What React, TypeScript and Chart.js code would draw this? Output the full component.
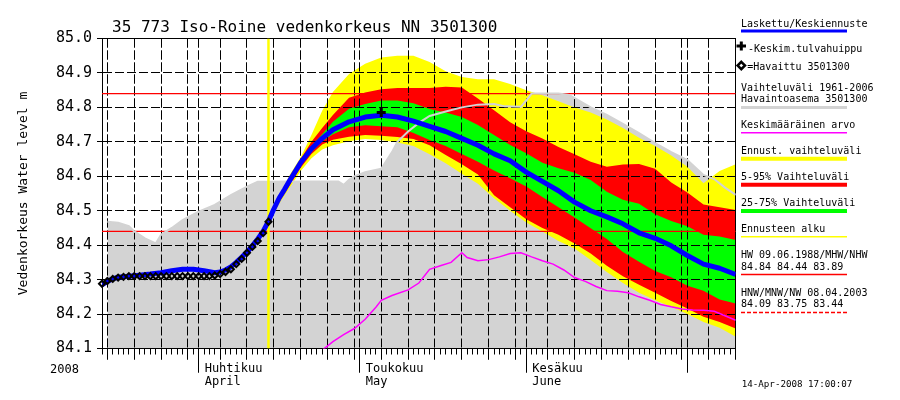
import React, { useEffect, useRef } from 'react';
import { Chart, registerables } from 'chart.js';

Chart.register(...registerables);

const MONO = 'DejaVu Sans Mono';

// ---- text ----
const titleText = '35 773 Iso-Roine vedenkorkeus NN 3501300';
const yAxisTitle = 'Vedenkorkeus Water level m';
const yearLabel = '2008';
const timestampText = '14-Apr-2008 17:00:07';

// ---- x axis: day index, 0 = 14 Mar 2008, 118 = 10 Jul 2008 ----
const dayRange = [0, 118];
const monthTickDays = [18, 48, 79, 109];
const monthTickLabels: (string | string[])[] = [['Huhtikuu', 'April'], ['Toukokuu', 'May'], ['Kesäkuu', 'June'], ''];
const fiveDayTickDays = [1, 6, 11, 16, 22, 27, 32, 37, 42, 47, 52, 57, 62, 67, 72, 77, 83, 88, 93, 98, 103, 108, 113, 118];
const yTicks = [84.1, 84.2, 84.3, 84.4, 84.5, 84.6, 84.7, 84.8, 84.9, 85.0];

// ---- observed (Havaittu 3501300) ----
const obsDays = [0, 1, 2, 3, 4, 5, 6, 7, 8, 9, 10, 11, 12, 13, 14, 15, 16, 17, 18, 19, 20, 21, 22, 23, 24, 25, 26, 27, 28, 29, 30, 31];
const obsValues = [84.288, 84.296, 84.302, 84.306, 84.308, 84.31, 84.31, 84.31, 84.31, 84.31, 84.31, 84.31, 84.31, 84.31, 84.31, 84.31,
  84.31, 84.31, 84.31, 84.31, 84.31, 84.312, 84.316, 84.322, 84.33, 84.345, 84.36, 84.378, 84.395, 84.412, 84.435, 84.468];

// ---- computed (Laskettu) before forecast ----
const calcDays = [0, 1, 2, 3, 5, 7, 9, 11, 13, 15, 17, 19, 21, 22, 23, 24, 25, 26, 27, 28, 29, 30];
const calcValues = [84.285, 84.295, 84.302, 84.307, 84.31, 84.313, 84.316, 84.32, 84.326, 84.33, 84.33, 84.326, 84.32, 84.322,
  84.328, 84.337, 84.35, 84.365, 84.38, 84.398, 84.418, 84.44];

// ---- forecast period ----
const forecastStartDay = 31;
const bandDays = [31, 32, 33, 34, 35, 37, 39, 41, 43, 46, 49, 52, 55, 58, 61, 64, 67, 70, 73, 76, 79, 82, 85, 88, 91, 94, 97, 100, 103, 106, 109, 112, 115, 118];
const forecastMean = [84.47, 84.505, 84.537, 84.562, 84.589, 84.64, 84.68, 84.71, 84.735, 84.758, 84.772, 84.777, 84.772, 84.76, 84.745, 84.73, 84.71,
  84.69, 84.665, 84.645, 84.612, 84.585, 84.558, 84.525, 84.5, 84.482, 84.462, 84.436, 84.42, 84.398, 84.37, 84.345, 84.333, 84.315];
const yellowUpper = [84.47, 84.51, 84.545, 84.575, 84.605, 84.655, 84.72, 84.79, 84.845, 84.897, 84.927, 84.945, 84.95, 84.95, 84.932, 84.905, 84.888,
  84.882, 84.882, 84.868, 84.85, 84.835, 84.818, 84.8, 84.785, 84.765, 84.74, 84.712, 84.688, 84.66, 84.628, 84.58, 84.615, 84.635];
const yellowLower = [84.47, 84.495, 84.52, 84.545, 84.568, 84.615, 84.652, 84.678, 84.69, 84.702, 84.708, 84.705, 84.698, 84.688, 84.664, 84.638, 84.607,
  84.578, 84.536, 84.5, 84.466, 84.44, 84.412, 84.39, 84.357, 84.322, 84.29, 84.262, 84.24, 84.221, 84.2, 84.177, 84.16, 84.134];
const redUpper = [84.47, 84.505, 84.54, 84.57, 84.6, 84.65, 84.7, 84.74, 84.778, 84.828, 84.843, 84.853, 84.856, 84.856, 84.856, 84.86, 84.858,
  84.826, 84.792, 84.757, 84.731, 84.71, 84.685, 84.664, 84.642, 84.628, 84.634, 84.636, 84.622, 84.582, 84.553, 84.518, 84.51, 84.502];
const redLower = [84.47, 84.497, 84.525, 84.55, 84.575, 84.625, 84.665, 84.692, 84.706, 84.715, 84.72, 84.718, 84.714, 84.708, 84.69, 84.662, 84.635,
  84.605, 84.545, 84.51, 84.475, 84.45, 84.43, 84.405, 84.376, 84.34, 84.31, 84.285, 84.262, 84.238, 84.216, 84.192, 84.177, 84.158];
const greenUpper = [84.47, 84.505, 84.538, 84.564, 84.592, 84.644, 84.688, 84.722, 84.758, 84.796, 84.81, 84.82, 84.82, 84.812, 84.795, 84.785, 84.772,
  84.749, 84.72, 84.691, 84.667, 84.639, 84.623, 84.61, 84.589, 84.555, 84.532, 84.52, 84.49, 84.47, 84.455, 84.43, 84.425, 84.415];
const greenLower = [84.47, 84.5, 84.53, 84.555, 84.582, 84.632, 84.67, 84.702, 84.722, 84.742, 84.748, 84.745, 84.742, 84.726, 84.705, 84.688, 84.665,
  84.642, 84.617, 84.594, 84.57, 84.54, 84.51, 84.48, 84.449, 84.418, 84.38, 84.352, 84.325, 84.307, 84.282, 84.268, 84.242, 84.231];

// ---- historical range max 1961-2006 ----
const histMaxDays = [1, 3, 5, 6, 8, 10, 11, 13, 15, 18, 21, 24, 27, 29, 31, 35, 40, 44, 45, 46, 47, 49, 52, 54, 55, 57, 59, 61, 64, 67, 70, 73, 75, 78,
  79, 80, 85, 87, 91, 94, 97, 100, 103, 106, 109, 112, 114, 116, 118];
const histMaxValues = [84.468, 84.465, 84.455, 84.44, 84.42, 84.405, 84.43, 84.45, 84.473, 84.497, 84.517, 84.545, 84.57, 84.584, 84.584, 84.585,
  84.585, 84.585, 84.575, 84.59, 84.6, 84.612, 84.622, 84.67, 84.7, 84.73, 84.755, 84.775, 84.788, 84.8, 84.808, 84.81, 84.803, 84.802, 84.82, 84.84,
  84.84, 84.836, 84.8, 84.778, 84.752, 84.725, 84.696, 84.67, 84.647, 84.604, 84.592, 84.567, 84.546];

// ---- mean (Keskimääräinen arvo) ----
const meanDays = [41, 43, 45, 47, 49, 51, 52, 54, 57, 59, 61, 63, 65, 67, 68, 70, 72, 74, 76, 78, 80, 82, 84, 86, 88, 90, 92, 94, 96, 98, 100, 102,
  104, 106, 108, 110, 112, 114, 116, 118];
const meanValues = [84.095, 84.12, 84.14, 84.158, 84.185, 84.22, 84.24, 84.254, 84.27, 84.29, 84.33, 84.34, 84.35, 84.378, 84.364, 84.355, 84.358,
  84.366, 84.376, 84.378, 84.366, 84.355, 84.345, 84.328, 84.306, 84.295, 84.28, 84.268, 84.266, 84.262, 84.25, 84.24, 84.228, 84.221, 84.215,
  84.212, 84.211, 84.208, 84.195, 84.182];

// ---- mean flood peak ----
const peakDays = [52];
const peakValues = [84.785];

// ---- reference levels ----
const hwLevels = [84.84, 84.44, 83.89];
const nwLevels = [84.09, 83.75, 83.44];

const BLUE = '#0000ff';
const GRAY = '#d3d3d3';
const YELLOW = '#ffff00';
const RED = '#ff0000';
const GREEN = '#00ff00';
const MAGENTA = '#ff00ff';
const DASH = [9, 3];

const xy = (days: number[], vals: number[]) => days.map((d, i) => ({ x: d, y: vals[i] }));

export default function App() {
  const ref = useRef<HTMLCanvasElement>(null);

  useEffect(() => {
    const canvas = ref.current;
    if (!canvas) return;
    Chart.defaults.font.family = MONO;

    const base = { xAxisID: 'x', yAxisID: 'y', pointRadius: 0, pointHoverRadius: 0, tension: 0 };
    const band = (label: string, data: any, color: string | null, order: number) => ({
      ...base, label, data, showLine: false, borderWidth: 0, borderColor: 'rgba(0,0,0,0)',
      backgroundColor: color || 'rgba(0,0,0,0)', fill: color ? '+1' : false, order,
    });

    const datasets: any[] = [
      { ...base, label: 'histFill', data: xy(histMaxDays, histMaxValues), showLine: false, borderWidth: 0,
        borderColor: 'rgba(0,0,0,0)', backgroundColor: GRAY, fill: 'start', order: 20 },
      band('yU', xy(bandDays, yellowUpper), YELLOW, 19),
      band('yL', xy(bandDays, yellowLower), null, 18),
      band('rU', xy(bandDays, redUpper), RED, 17),
      band('rL', xy(bandDays, redLower), null, 16),
      band('gU', xy(bandDays, greenUpper), GREEN, 15),
      band('gL', xy(bandDays, greenLower), null, 14),
      ...hwLevels.map((lv, i) => ({ ...base, label: 'hw' + i, data: [{ x: dayRange[0], y: lv }, { x: dayRange[1], y: lv }],
        borderColor: RED, borderWidth: 1.3, fill: false, order: 10 })),
      ...nwLevels.map((lv, i) => ({ ...base, label: 'nw' + i, data: [{ x: dayRange[0], y: lv }, { x: dayRange[1], y: lv }],
        borderColor: RED, borderWidth: 1.3, borderDash: [4, 2], fill: false, order: 10 })),
      { ...base, label: 'histLine', data: xy(histMaxDays, histMaxValues), borderColor: GRAY, borderWidth: 2, fill: false, order: 9 },
      { ...base, label: 'mean', data: xy(meanDays, meanValues), borderColor: MAGENTA, borderWidth: 1.5, fill: false, order: 8 },
      { ...base, label: 'fstart', data: [{ x: forecastStartDay, y: yTicks[0] }, { x: forecastStartDay, y: yTicks[yTicks.length - 1] }],
        borderColor: YELLOW, borderWidth: 2.5, fill: false, order: 7 },
      { ...base, label: 'calc', data: xy(calcDays.concat(bandDays), calcValues.concat(forecastMean)), borderColor: BLUE,
        borderWidth: 5, borderJoinStyle: 'round', fill: false, order: 3 },
      { ...base, label: 'obs', data: xy(obsDays, obsValues), showLine: false, pointStyle: 'rectRot', pointRadius: 3,
        pointBorderWidth: 2, pointBorderColor: '#000', pointBackgroundColor: 'rgba(0,0,0,0)', clip: false, order: 2 },
      { ...base, label: 'peak', data: xy(peakDays, peakValues), showLine: false, pointStyle: 'cross', pointRadius: 4.5,
        pointBorderWidth: 3, pointBorderColor: '#000', clip: false, order: 1 },
    ];

    const gridOverFills = {
      id: 'gridOverFills',
      afterDatasetDraw(chart: any, args: any) {
        if (chart.data.datasets[args.index].label !== 'gL') return;
        const c = chart.ctx;
        for (const id of ['x5', 'x', 'y']) {
          c.save();
          chart.scales[id].drawGrid(chart.chartArea);
          c.restore();
        }
        for (const id of ['x', 'y', 'xTop', 'yRight']) {
          c.save();
          chart.scales[id].drawBorder();
          c.restore();
        }
      },
    };

    const textPlugin = {
      id: 'texts',
      afterDraw(chart: any) {
        const c = chart.ctx as CanvasRenderingContext2D;
        c.save();
        c.fillStyle = '#000';
        c.textAlign = 'left';
        c.textBaseline = 'alphabetic';
        c.font = `16px "${MONO}"`;
        c.fillText(titleText, 112, 32);
        c.font = `12px "${MONO}"`;
        c.fillText(yearLabel, 50, 373);

        const lx = 741, lx2 = 847;
        const line = (y: number, color: string, w: number, dash: number[] = []) => {
          c.save();
          c.strokeStyle = color; c.lineWidth = w; c.setLineDash(dash);
          c.beginPath(); c.moveTo(lx, y); c.lineTo(lx2, y); c.stroke();
          c.restore();
        };
        c.font = `10px "${MONO}"`;
        c.fillText('Laskettu/Keskiennuste', lx, 27);
        line(31, BLUE, 3);
        // plus marker
        c.save();
        c.strokeStyle = '#000'; c.lineWidth = 3;
        c.beginPath(); c.moveTo(736.5, 46); c.lineTo(746, 46); c.moveTo(741.3, 41.5); c.lineTo(741.3, 50.5); c.stroke();
        c.restore();
        c.fillText('-Keskim.tulvahuippu', 748, 52);
        // diamond marker
        c.save();
        c.strokeStyle = '#000'; c.lineWidth = 2.5;
        c.beginPath(); c.moveTo(741.3, 61.8); c.lineTo(745, 65.5); c.lineTo(741.3, 69.2); c.lineTo(737.6, 65.5); c.closePath(); c.stroke();
        c.restore();
        c.fillText('=Havaittu 3501300', 747.3, 70);
        c.fillText('Vaihteluväli 1961-2006', lx, 90.7);
        c.fillText('Havaintoasema 3501300', lx, 102.3);
        line(107.5, GRAY, 3);
        c.fillText('Keskimääräinen arvo', lx, 128.3);
        line(132.7, MAGENTA, 1.5);
        c.fillText('Ennust. vaihteluväli', lx, 154);
        line(158.7, YELLOW, 4);
        c.fillText('5-95% Vaihteluväli', lx, 180);
        line(184.7, RED, 4);
        c.fillText('25-75% Vaihteluväli', lx, 206);
        line(211, GREEN, 4);
        c.fillText('Ennusteen alku', lx, 232.3);
        line(236.7, YELLOW, 1.5);
        c.fillText('HW 09.06.1988/MHW/NHW', lx, 258.3);
        c.fillText(hwLevels.map((v) => v.toFixed(2)).join(' '), lx, 270);
        line(274.5, RED, 1.3);
        c.fillText('HNW/MNW/NW 08.04.2003', lx, 296);
        c.fillText(nwLevels.map((v) => v.toFixed(2)).join(' '), lx, 307.3);
        line(312.5, RED, 1.3, [4, 2]);
        c.font = `9.2px "${MONO}"`;
        c.fillText(timestampText, 741.7, 386.7);
        c.restore();
      },
    };

    const helperX = (ticksArr: number[], tickLength: number, onArea: boolean) => ({
      type: 'linear', position: 'bottom', min: dayRange[0], max: dayRange[1], weight: 0,
      afterBuildTicks: (s: any) => { s.ticks = ticksArr.map((v) => ({ value: v })); },
      ticks: { display: false },
      grid: { color: '#000', lineWidth: 1, tickLength, drawOnChartArea: onArea, drawTicks: true },
      border: { display: false, dash: DASH },
      afterFit: (s: any) => { s.height = 0; },
    });

    const allDays: number[] = [];
    for (let d = dayRange[0]; d <= dayRange[1]; d++) allDays.push(d);

    const chart = new Chart(canvas, {
      type: 'line',
      data: { datasets },
      plugins: [gridOverFills, textPlugin],
      options: {
        responsive: false,
        animation: false,
        devicePixelRatio: 1,
        events: [],
        layout: { padding: { left: 0, top: 38.5, right: 164.3, bottom: 0 } },
        plugins: { legend: { display: false }, tooltip: { enabled: false }, title: { display: false } },
        scales: {
          xDay: helperX(allDays, 6, false),
          x5: helperX(fiveDayTickDays, 11, true),
          x: {
            type: 'linear', position: 'bottom', min: dayRange[0], max: dayRange[1], weight: 1,
            afterBuildTicks: (s: any) => { s.ticks = monthTickDays.map((v) => ({ value: v })); },
            ticks: {
              autoSkip: false, maxRotation: 0, minRotation: 0, align: 'start', labelOffset: 6, padding: -9.5,
              color: '#000', font: { family: MONO, size: 12, lineHeight: 1.06 },
              callback: (_v: any, i: number) => monthTickLabels[i],
            },
            grid: { color: '#000', lineWidth: 1, tickLength: 24, drawOnChartArea: true },
            border: { display: true, color: '#000', width: 1, dash: DASH },
            afterFit: (s: any) => { s.height = 51.5; },
          },
          xTop: {
            type: 'linear', position: 'top', min: dayRange[0], max: dayRange[1],
            ticks: { display: false }, grid: { display: false },
            border: { display: true, color: '#000', width: 1 },
            afterFit: (s: any) => { s.height = 0; },
          },
          y: {
            type: 'linear', position: 'left', min: yTicks[0], max: yTicks[yTicks.length - 1],
            afterBuildTicks: (s: any) => { s.ticks = yTicks.map((v) => ({ value: v })); },
            ticks: { color: '#000', padding: 5, font: { family: MONO, size: 15 }, callback: (v: any) => Number(v).toFixed(1) },
            grid: { color: '#000', lineWidth: 1, tickLength: 5, drawOnChartArea: true },
            border: { display: true, color: '#000', width: 1, dash: DASH },
            title: { display: true, text: yAxisTitle, color: '#000', font: { family: MONO, size: 13 }, padding: { top: 16, bottom: 0 } },
            afterFit: (s: any) => { s.width = 102; },
          },
          yRight: {
            type: 'linear', position: 'right', min: yTicks[0], max: yTicks[yTicks.length - 1],
            ticks: { display: false }, grid: { display: false },
            border: { display: true, color: '#000', width: 1 },
            afterFit: (s: any) => { s.width = 0; },
          },
        },
      } as any,
    });
    return () => chart.destroy();
  }, []);

  return (
    <div style={{ position: 'absolute', left: 0, top: 0, width: 900, height: 400, background: '#fff' }}>
      <canvas ref={ref} width={900} height={400} style={{ width: 900, height: 400, display: 'block' }} />
    </div>
  );
}
